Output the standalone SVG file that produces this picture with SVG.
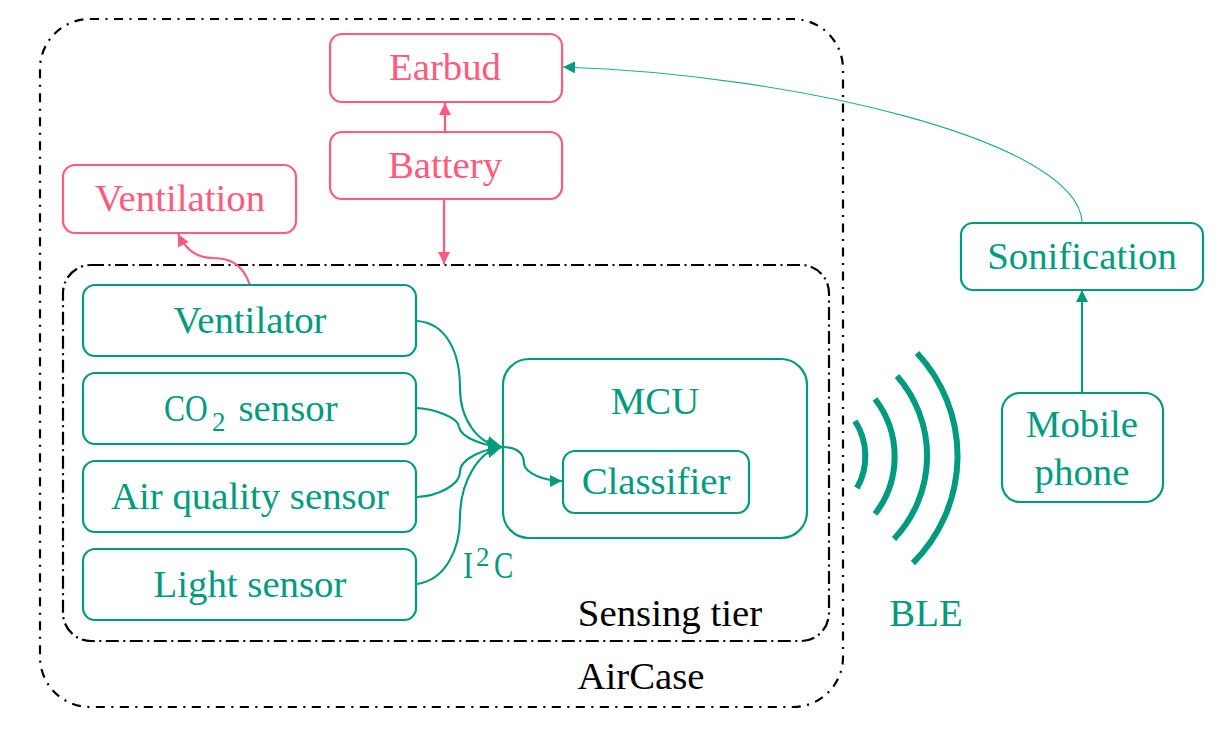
<svg xmlns="http://www.w3.org/2000/svg" width="1226" height="736" viewBox="0 0 1226 736">
<style>
text{font-family:"Liberation Serif","Times New Roman",serif;font-size:38.8px;text-anchor:middle}
.m{text-anchor:start;font-size:38px}
.s{text-anchor:start;font-size:27px}
.g{fill:#009b7f}.r{fill:#ff5c7d}.k{fill:#000}
.bg{fill:none;stroke:#009b7f;stroke-width:2.2}
.br{fill:none;stroke:#ff5c7d;stroke-width:2.2}
.do{fill:none;stroke:#000;stroke-width:2.2;stroke-dasharray:9 6.5 2 6.5}
.di{fill:none;stroke:#000;stroke-width:2.2;stroke-dasharray:13 4.5 2 4.5}
.cg{fill:none;stroke:#009b7f;stroke-width:2.1}
.cr{fill:none;stroke:#ff5c7d;stroke-width:2.2}
.wave{fill:none;stroke:#009b7f;stroke-width:6}
</style>
<defs>
<marker id="ag" markerUnits="userSpaceOnUse" markerWidth="14" markerHeight="14" refX="12" refY="6" orient="auto"><path d="M0 0L12 6L0 12z" fill="#009b7f"/></marker>
<marker id="ar" markerUnits="userSpaceOnUse" markerWidth="14" markerHeight="14" refX="12" refY="6" orient="auto"><path d="M0 0L12 6L0 12z" fill="#ff5c7d"/></marker>
<marker id="agb" markerUnits="userSpaceOnUse" markerWidth="20" markerHeight="20" refX="14" refY="9" orient="auto"><path d="M0 0L14 9L0 18z" fill="#009b7f"/></marker>
</defs>
<g id="aircase"><rect class="do" x="40" y="19" width="803" height="688" rx="50"/><text class="k" x="641" y="689">AirCase</text></g>
<g id="sensing-tier"><rect class="di" x="63" y="265" width="766" height="376" rx="28"/><text class="k" x="670" y="626">Sensing tier</text></g>
<g id="connectors">
<path class="cr" d="M445 132V103" marker-end="url(#ar)"/>
<path class="cr" d="M444 199V264" marker-end="url(#ar)"/>
<path class="cr" d="M250 285C242 262 228 258 212 258C198 258 186 250 178 234" marker-end="url(#ar)"/>
<path class="cg" d="M417 321C445 323 460 350 460 388C460 420 478 444 502 447" marker-end="url(#agb)"/>
<path class="cg" d="M417 408C435 409 459 418 459 427C461 438 485 446 502 447" marker-end="url(#agb)"/>
<path class="cg" d="M417 497C438 496 460 485 460 472C460 458 485 449 502 447" marker-end="url(#agb)"/>
<path class="cg" d="M417 584C445 580 460 550 460 518C460 480 480 450 502 447" marker-end="url(#agb)"/>
<path class="cg" d="M502 447C515 447 524 452 524 464C526 474 545 481 562 481" marker-end="url(#ag)"/>
<path class="cg" d="M1082 392V290" marker-end="url(#ag)"/>
<path d="M1082 222C1078 140 790 74 563 67" fill="none" stroke="#1fae95" stroke-width="1.1" marker-end="url(#ag)"/>
</g>
<g id="earbud"><rect class="br" x="330" y="34" width="232" height="68" rx="12"/><text class="r" x="445" y="80">Earbud</text></g>
<g id="battery"><rect class="br" x="330" y="132" width="232" height="67" rx="12"/><text class="r" x="445" y="178">Battery</text></g>
<g id="ventilation"><rect class="br" x="63" y="165" width="233" height="68" rx="12"/><text class="r" x="180" y="211">Ventilation</text></g>
<g id="ventilator"><rect class="bg" x="83" y="285" width="333" height="71" rx="12"/><text class="g" x="250" y="333">Ventilator</text></g>
<g id="co2"><rect class="bg" x="83" y="373" width="333" height="71" rx="12"/><text class="g m" transform="translate(164 421) scale(.83 1)">CO</text><text class="g s" x="212" y="431">2</text><text class="g" x="288" y="421">sensor</text></g>
<g id="air-quality"><rect class="bg" x="83" y="461" width="333" height="71" rx="12"/><text class="g" x="250" y="509">Air quality sensor</text></g>
<g id="light"><rect class="bg" x="83" y="549" width="333" height="71" rx="12"/><text class="g" x="250" y="597">Light sensor</text></g>
<g id="mcu"><rect class="bg" x="503" y="359" width="304" height="179" rx="26"/><text class="g" x="655" y="414">MCU</text></g>
<g id="classifier"><rect class="bg" x="563" y="451" width="186" height="62" rx="12"/><text class="g" x="656" y="494">Classifier</text></g>
<g id="i2c"><text class="g m" transform="translate(463 578) scale(.8 1)">I</text><text class="g s" x="476" y="566">2</text><text class="g m" transform="translate(494 578) scale(.76 1)">C</text></g>
<g id="ble"><path class="wave" d="M855 421A65 65 0 0 1 857 488"/><path class="wave" d="M875 399A94 94 0 0 1 875 514"/><path class="wave" d="M897 376A121 121 0 0 1 894 539"/><path class="wave" d="M917 353A151 151 0 0 1 913 563"/><text class="g" x="926" y="626">BLE</text></g>
<g id="sonification"><rect class="bg" x="961" y="223" width="242" height="67" rx="12"/><text class="g" x="1082" y="269">Sonification</text></g>
<g id="mobile"><rect class="bg" x="1002" y="393" width="161" height="109" rx="18"/><text class="g" x="1082" y="437">Mobile</text><text class="g" x="1082" y="485">phone</text></g>
</svg>
